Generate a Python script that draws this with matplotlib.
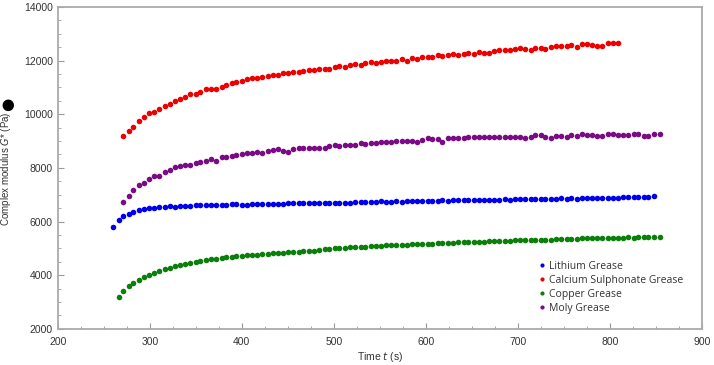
import matplotlib.pyplot as plt
from matplotlib.ticker import MultipleLocator

# shared instrument time stamps (s)
time_s = [260, 266, 271, 277, 282, 288, 294, 299, 305, 310,
          316, 322, 327, 333, 338, 344, 350, 355, 361, 366,
          372, 378, 383, 389, 394, 400, 406, 411, 417, 422,
          428, 434, 439, 445, 450, 456, 462, 467, 473, 478,
          484, 490, 495, 501, 506, 512, 518, 523, 529, 534,
          540, 546, 551, 557, 562, 568, 574, 579, 585, 590,
          596, 602, 607, 613, 618, 624, 630, 635, 641, 646,
          652, 658, 663, 669, 674, 680, 686, 691, 697, 702,
          708, 714, 719, 725, 730, 736, 742, 747, 753, 758,
          764, 770, 775, 781, 786, 792, 798, 803, 809, 814,
          820, 826, 831, 837, 842, 848, 854]

# complex modulus G* (Pa); each series starts at its own index in time_s
lithium_start = 0
lithium = [5810, 6060, 6190, 6300, 6370, 6420, 6480, 6510, 6520, 6550,
           6560, 6570, 6560, 6580, 6590, 6580, 6610, 6620, 6610, 6630,
           6620, 6630, 6630, 6660, 6650, 6630, 6620, 6640, 6650, 6650,
           6660, 6650, 6670, 6670, 6680, 6680, 6690, 6680, 6700, 6690,
           6700, 6710, 6710, 6690, 6710, 6710, 6710, 6720, 6720, 6720,
           6720, 6730, 6760, 6740, 6730, 6750, 6740, 6770, 6780, 6760,
           6760, 6770, 6770, 6780, 6790, 6780, 6790, 6800, 6800, 6810,
           6800, 6810, 6820, 6810, 6820, 6820, 6830, 6820, 6830, 6840,
           6840, 6830, 6840, 6850, 6840, 6850, 6850, 6860, 6850, 6860,
           6840, 6870, 6870, 6880, 6870, 6880, 6870, 6880, 6870, 6920,
           6900, 6910, 6910, 6920, 6920, 6940]

calcium_start = 2
calcium = [9205, 9390, 9540, 9730, 9880, 10030, 10075, 10200, 10320, 10385,
           10485, 10570, 10660, 10770, 10770, 10845, 10945, 10945, 10945, 11030,
           11080, 11170, 11215, 11250, 11320, 11340, 11360, 11370, 11420, 11450,
           11470, 11520, 11530, 11560, 11560, 11600, 11640, 11650, 11690, 11700,
           11700, 11760, 11780, 11760, 11830, 11860, 11840, 11900, 11930, 11920,
           11960, 11990, 12000, 11990, 12050, 11990, 12110, 12060, 12130, 12150,
           12140, 12200, 12160, 12220, 12230, 12200, 12260, 12290, 12240, 12310,
           12300, 12280, 12360, 12400, 12380, 12390, 12420, 12460, 12440, 12410,
           12470, 12460, 12430, 12490, 12530, 12540, 12560, 12590, 12510, 12620,
           12600, 12590, 12560, 12530, 12640, 12650, 12670]

copper_start = 1
copper = [3180, 3430, 3590, 3715, 3840, 3940, 4010, 4085, 4160, 4235,
          4285, 4335, 4385, 4420, 4470, 4495, 4535, 4560, 4595, 4620,
          4630, 4670, 4695, 4710, 4730, 4740, 4750, 4770, 4790, 4800,
          4820, 4830, 4840, 4860, 4870, 4880, 4900, 4900, 4920, 4950,
          4970, 4980, 5000, 5010, 5030, 5040, 5050, 5060, 5070, 5080,
          5090, 5100, 5110, 5120, 5130, 5140, 5140, 5150, 5160, 5170,
          5180, 5180, 5190, 5200, 5210, 5210, 5220, 5230, 5230, 5240,
          5250, 5250, 5260, 5270, 5280, 5280, 5290, 5300, 5300, 5310,
          5300, 5320, 5320, 5330, 5330, 5340, 5340, 5350, 5360, 5360,
          5370, 5370, 5380, 5380, 5380, 5390, 5390, 5400, 5400, 5410,
          5400, 5410, 5420, 5430, 5430, 5430]

moly_start = 2
moly = [6730, 6970, 7160, 7350, 7430, 7570, 7690, 7690, 7860, 7910,
        8020, 8080, 8100, 8100, 8200, 8210, 8260, 8320, 8270, 8400,
        8410, 8460, 8470, 8510, 8560, 8540, 8590, 8560, 8620, 8680,
        8700, 8640, 8610, 8700, 8730, 8740, 8740, 8740, 8760, 8760,
        8820, 8850, 8800, 8850, 8870, 8870, 8930, 8880, 8920, 8930,
        8970, 8960, 8950, 8990, 8990, 9000, 9010, 8970, 9040, 9100,
        9080, 9070, 8960, 9100, 9110, 9100, 9110, 9150, 9150, 9150,
        9150, 9140, 9150, 9160, 9150, 9160, 9150, 9160, 9110, 9170,
        9220, 9240, 9170, 9110, 9190, 9190, 9170, 9220, 9180, 9250,
        9230, 9210, 9190, 9190, 9250, 9250, 9230, 9240, 9240, 9250,
        9260, 9190, 9180, 9260, 9260]

series = [
    ("Lithium Grease", lithium_start, lithium, "#0000ee"),
    ("Calcium Sulphonate Grease", calcium_start, calcium, "#ee0000"),
    ("Copper Grease", copper_start, copper, "#0a7f0a"),
    ("Moly Grease", moly_start, moly, "#7a0a85"),
]

plt.rcParams['font.family'] = ['Liberation Sans', 'DejaVu Sans']

fig = plt.figure(figsize=(7.14, 3.65), dpi=100)
ax = fig.add_axes([0.081, 0.099, 0.902, 0.882])

for name, start, vals, col in series:
    t = time_s[start:start + len(vals)]
    ax.plot(t, vals, 'o', ms=4, color=col, label=name, markeredgewidth=0)

ax.set_xlim(200, 900)
ax.set_ylim(2000, 14000)
ax.xaxis.set_major_locator(MultipleLocator(100))
ax.xaxis.set_minor_locator(MultipleLocator(25))
ax.yaxis.set_major_locator(MultipleLocator(2000))
ax.yaxis.set_minor_locator(MultipleLocator(500))
ax.tick_params(which='both', direction='in', colors='#999999',
               labelcolor='#333333', labelsize=7.5)
ax.tick_params(which='major', length=4)
ax.tick_params(which='minor', length=2)
ax.tick_params(axis='x', pad=6)
for sp in ax.spines.values():
    sp.set_color('#aaaaaa')
    sp.set_linewidth(1.3)

ax.set_xlabel('Time $t$ (s)', fontsize=7.5, color='#333333', labelpad=2)
ax.set_ylabel('Complex modulus $G$* (Pa)', fontsize=7, color='#333333')
ax.yaxis.set_label_coords(-0.069, 0.497)
fig.text(0.011, 0.714, '\u25CF', fontsize=11, color='black', rotation=90,
         ha='center', va='center', family='DejaVu Sans')

leg = ax.legend(loc='upper left', bbox_to_anchor=(0.745, 0.212), frameon=False,
                borderpad=0, borderaxespad=0, markerscale=0.75,
                handletextpad=0.3, labelspacing=0.3, handlelength=0.8,
                prop={'family': 'Open Sans', 'size': 7.5})
for txt in leg.get_texts():
    txt.set_color('#333333')

fig.savefig('out.png', dpi=100)
